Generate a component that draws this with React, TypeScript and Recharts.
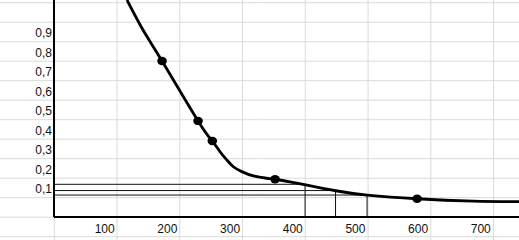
import { ComposedChart, Line, XAxis, YAxis, CartesianGrid } from 'recharts'

// hand-drawn curve
const curveX = [135.6, 161.2, 191.5, 248.9, 271.7, 284, 294.7, 305.3, 318.7, 337.2, 358.5, 371.8, 395.7, 416.5, 468.6, 518.6, 598.4, 687.7, 761]
const curveY = [1.069, 0.915, 0.756, 0.449, 0.346, 0.291, 0.249, 0.214, 0.189, 0.167, 0.155, 0.15, 0.137, 0.124, 0.091, 0.069, 0.05, 0.038, 0.035]

// measured points (dots)
const pointX = [191.5, 248.9, 271.7, 371.8, 598.4]
const pointY = [0.756, 0.449, 0.346, 0.15, 0.05]

// read-off lines: level on the y axis -> where it meets the curve
const readY = [0.124, 0.092, 0.069]
const readX = [419.7, 468.3, 518.6]

const xTicks = [100, 200, 300, 400, 500, 600, 700]
const yTicks = [0.1, 0.2, 0.3, 0.4, 0.5, 0.6, 0.7, 0.8, 0.9]

const X_MIN = 19.1
const X_MAX = 761
const Y_MIN = -0.0436
const Y_MAX = 1.069

const W = 519
const H = 240

// spreadsheet cell grid behind the chart
const rowLines = Array.from({ length: 13 }, (_, i) => 2.7 + i * 19.5)
const colLines = Array.from({ length: 8 }, (_, i) => 54.3 + i * 62.75)

const curve = curveX.map((x, i) => ({ x, y: curveY[i] }))
const points = pointX.map((x, i) => ({ x, y: pointY[i] }))
const readLines = readX.map((x, i) => [
  { x: X_MIN, y: readY[i] },
  { x, y: readY[i] },
  { x, y: Y_MIN },
])

const tickStyle = { fill: '#111', fontSize: 12, fontFamily: '"Liberation Sans", Arial, sans-serif' }

const Dot = (props: any) => {
  const { cx, cy } = props
  if (cx == null || cy == null) return null
  return <ellipse cx={cx} cy={cy} rx={4.8} ry={4.2} fill="#000" />
}

export default function App() {
  return (
    <div style={{ width: W, height: H, background: '#fff' }}>
      <style>{'body{margin:0}'}</style>
      <ComposedChart width={W} height={H} margin={{ top: 0, right: 0, bottom: 0, left: 0 }}>
        <CartesianGrid
          x={0}
          y={0}
          width={W}
          height={H}
          horizontalPoints={rowLines}
          verticalPoints={colLines}
          stroke="#dadada"
          strokeWidth={1}
        />
        <XAxis
          type="number"
          dataKey="x"
          domain={[X_MIN, X_MAX]}
          ticks={xTicks}
          interval={0}
          allowDataOverflow
          height={23}
          tickLine={false}
          tickSize={0}
          tickMargin={7}
          axisLine={{ stroke: '#000', strokeWidth: 2 }}
          tick={tickStyle}
        />
        <YAxis
          type="number"
          dataKey="y"
          domain={[Y_MIN, Y_MAX]}
          ticks={yTicks}
          interval={0}
          allowDataOverflow
          width={54}
          tickLine={false}
          tickSize={2}
          tickMargin={0}
          axisLine={{ stroke: '#000', strokeWidth: 2 }}
          tick={tickStyle}
          tickFormatter={(v: number) => v.toFixed(1).replace('.', ',')}
        />
        {readLines.map((d, i) => (
          <Line
            key={i}
            data={d}
            dataKey="y"
            type="linear"
            stroke="#111"
            strokeWidth={1}
            dot={false}
            activeDot={false}
            isAnimationActive={false}
          />
        ))}
        <Line
          data={curve}
          dataKey="y"
          type="natural"
          stroke="#000"
          strokeWidth={2.8}
          dot={false}
          activeDot={false}
          isAnimationActive={false}
        />
        <Line
          data={points}
          dataKey="y"
          type="linear"
          stroke="none"
          dot={<Dot />}
          activeDot={false}
          isAnimationActive={false}
        />
      </ComposedChart>
    </div>
  )
}
